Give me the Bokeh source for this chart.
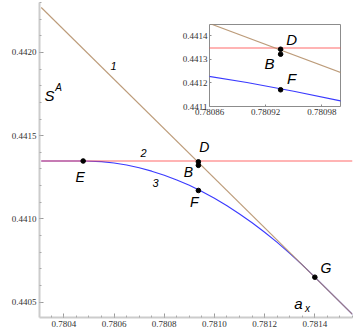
from bokeh.plotting import figure
from bokeh.models import Range1d, FixedTicker, NumeralTickFormatter, Label, ColumnDataSource
from bokeh.embed import file_html
from bokeh.resources import INLINE
import numpy as np

# ---- data ----
line1_x = [0.78031, 0.78155]
line1_y = [0.442270, 0.440427]

line2_x = [0.78031, 0.78155]
line2_y = [0.441348, 0.441348]

curve3_x = [0.78031, 0.78048, 0.78055, 0.78060, 0.78065, 0.78070, 0.78075, 0.78080,
            0.78085, 0.78090, 0.78095, 0.78100, 0.78105, 0.78110, 0.78115, 0.78120,
            0.78125, 0.78130, 0.78135, 0.78140, 0.78155]
curve3_y = [0.441348, 0.441348, 0.441344, 0.441336, 0.441324, 0.441307, 0.441287, 0.441263,
            0.441234, 0.441202, 0.441165, 0.441124, 0.441079, 0.441030, 0.440977, 0.440920,
            0.440859, 0.440793, 0.440724, 0.440650, 0.440427]

pt_names = ["E", "D", "B", "F", "G"]
pt_x = [0.780477, 0.780936, 0.780936, 0.780936, 0.781400]
pt_y = [0.441348, 0.441343, 0.441322, 0.441171, 0.440650]

x_major = [0.7804, 0.7806, 0.7808, 0.7810, 0.7812, 0.7814]
y_major = [0.4405, 0.4410, 0.4415, 0.4420]
ix_major = [0.78086, 0.78092, 0.78098]
iy_major = [0.4411, 0.4412, 0.4413, 0.4414]

BROWN = "#b08a62"
RED = "#ff5050"
BLUE = "#3a3aff"
SERIF = "Liberation Serif"
SANS = "Liberation Sans"

pts = ColumnDataSource(dict(x=pt_x, y=pt_y, name=pt_names))


def draw_lines(fig):
    fig.line(curve3_x, curve3_y, line_color=BLUE, line_width=1.1)
    fig.line(line2_x, line2_y, line_color=RED, line_width=1.1, line_alpha=0.85)
    fig.line(line1_x, line1_y, line_color=BROWN, line_width=1.1, line_alpha=0.85)


# ---- main figure ----
p = figure(width=361, height=334, x_range=Range1d(0.780303, 0.78155),
           y_range=Range1d(0.440408, 0.4423), output_backend="svg",
           toolbar_location=None, min_border_left=39, min_border_right=9,
           min_border_top=2, min_border_bottom=17)
p.grid.visible = False
p.outline_line_color = None
p.background_fill_color = "white"

draw_lines(p)
p.scatter("x", "y", source=pts, size=4.6, color="black")

x_minor = [round(v, 6) for v in np.arange(0.78030, 0.78156, 0.00005)]
y_minor = [round(v, 6) for v in np.arange(0.4404, 0.44230, 0.0001)]
p.xaxis.ticker = FixedTicker(ticks=x_major, minor_ticks=x_minor)
p.yaxis.ticker = FixedTicker(ticks=y_major, minor_ticks=y_minor)
p.xaxis.formatter = NumeralTickFormatter(format="0.0000")
p.yaxis.formatter = NumeralTickFormatter(format="0.0000")
for ax in (p.xaxis, p.yaxis):
    ax.axis_line_color = "#cccccc"
    ax.axis_line_width = 2
    ax.major_tick_in = 4
    ax.major_tick_out = 0
    ax.minor_tick_in = 2
    ax.minor_tick_out = 0
    ax.major_tick_line_color = "#999999"
    ax.minor_tick_line_color = "#aaaaaa"
    ax.major_label_text_font = SERIF
    ax.major_label_text_font_size = "9px"
    ax.major_label_text_color = "#333333"
    ax.major_label_standoff = 3


def lab(fig, text, x, y, size, dx=0, dy=0, italic=True):
    fig.add_layout(Label(x=x, y=y, x_offset=dx, y_offset=dy, text=text,
                         text_font=SANS, text_font_size=size,
                         text_font_style="italic" if italic else "normal",
                         text_align="center", text_baseline="middle",
                         text_color="black"))


# point labels (offset from the points)
offs = {"E": (-3, -16), "D": (6, 15), "B": (-10, -7), "F": (-4, -12), "G": (11, 9)}
for n, x, y in zip(pt_names, pt_x, pt_y):
    dx, dy = offs[n]
    lab(p, n, x, y, "14px", dx, dy)

lab(p, "1", 0.780598, 0.441916, "11px")
lab(p, "2", 0.780718, 0.441396, "11px")
lab(p, "3", 0.780765, 0.441216, "11px")
lab(p, "S", 0.780343, 0.441742, "15px")
lab(p, "A", 0.780379, 0.441790, "10px")
lab(p, "a", 0.781335, 0.440495, "15px")
lab(p, "x", 0.781371, 0.440462, "10px")

# ---- inset figure ----
pi = figure(width=163, height=98, x_range=Range1d(0.78086, 0.78100),
            y_range=Range1d(0.4411, 0.441448), output_backend="svg",
            toolbar_location=None, min_border_left=28, min_border_right=2,
            min_border_top=2, min_border_bottom=14)
pi.grid.visible = False
pi.outline_line_color = "#8c8c8c"
pi.background_fill_color = "white"
pi.border_fill_color = None
draw_lines(pi)
ins = ColumnDataSource(dict(x=pt_x[1:4], y=pt_y[1:4], name=pt_names[1:4]))
pi.scatter("x", "y", source=ins, size=4.6, color="black")
pi.xaxis.ticker = FixedTicker(ticks=ix_major)
pi.yaxis.ticker = FixedTicker(ticks=iy_major)
pi.xaxis.formatter = NumeralTickFormatter(format="0.00000")
pi.yaxis.formatter = NumeralTickFormatter(format="0.0000")
for ax in (pi.xaxis, pi.yaxis):
    ax.axis_line_color = None
    ax.major_tick_in = 2
    ax.major_tick_out = 0
    ax.minor_tick_line_color = None
    ax.major_tick_line_color = "#8c8c8c"
    ax.major_label_text_font = SERIF
    ax.major_label_text_font_size = "9px"
    ax.major_label_text_color = "#333333"
    ax.major_label_standoff = 2
ioffs = {"D": (11, 10), "B": (-11, -9), "F": (11, 11)}
for n, x, y in zip(pt_names[1:4], pt_x[1:4], pt_y[1:4]):
    dx, dy = ioffs[n]
    lab(pi, n, x, y, "15px", dx, dy)

pi.styles = {"position": "absolute", "left": "179px", "top": "22px", "z-index": "10"}

open("out.html", "w").write(file_html((p, pi), INLINE))
